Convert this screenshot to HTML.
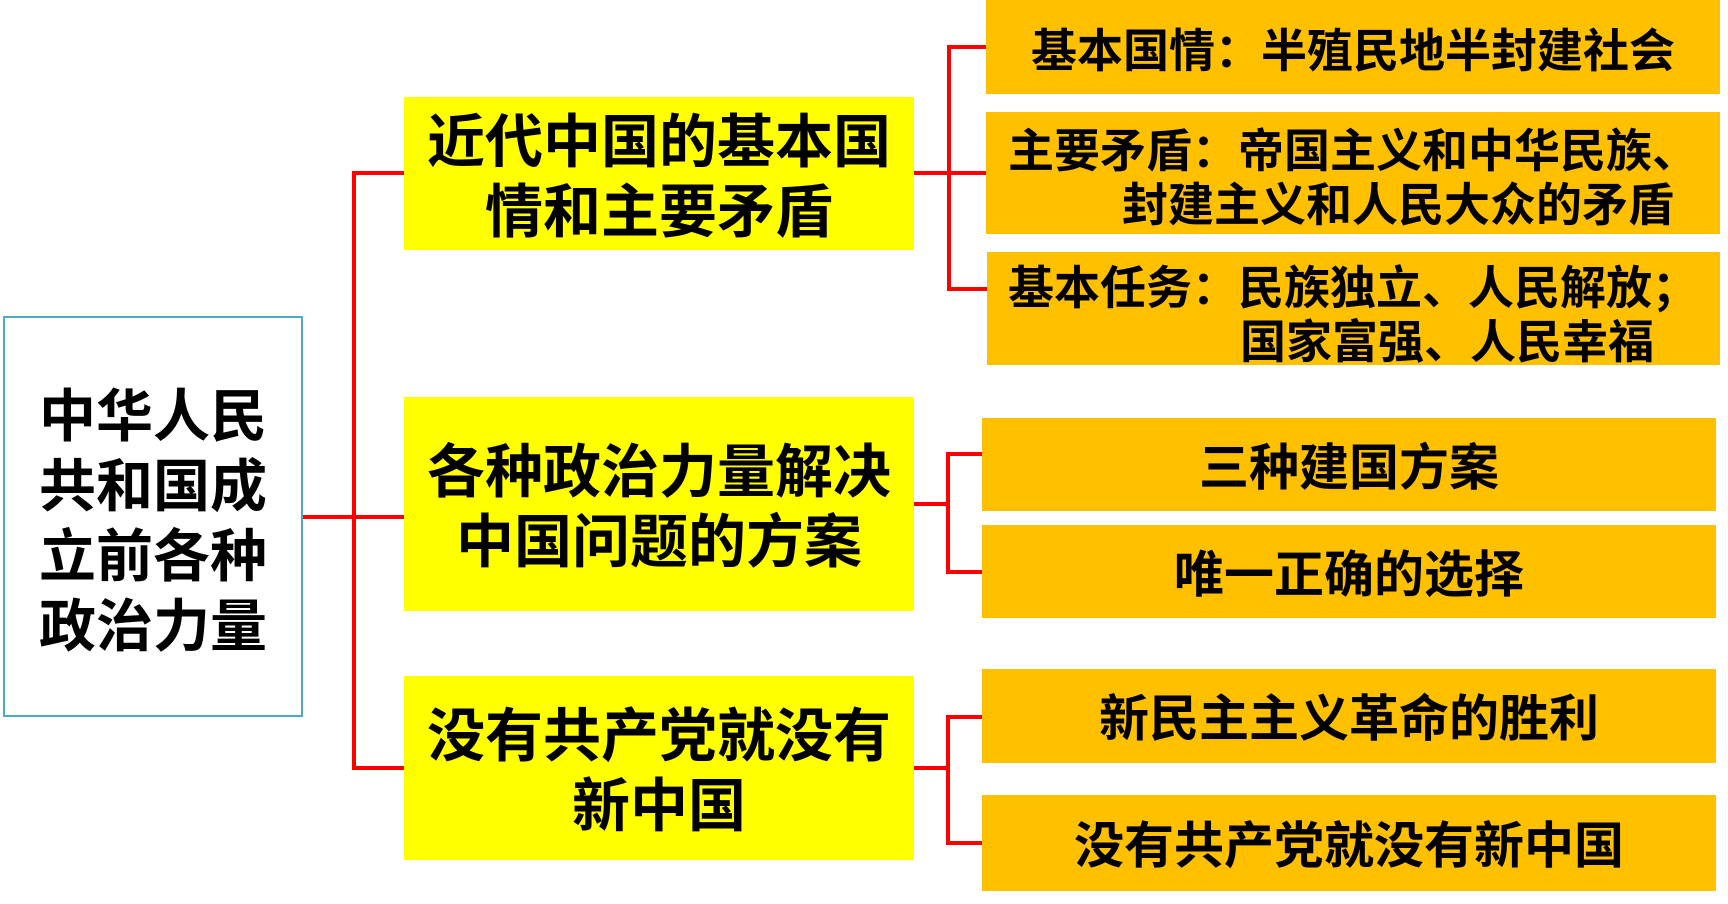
<!DOCTYPE html>
<html><head><meta charset="utf-8"><style>
body{margin:0;width:1728px;height:904px;background:#fff;position:relative;overflow:hidden;font-family:"Liberation Sans","Noto Sans CJK SC",sans-serif;font-weight:bold;color:#000}
.b{position:absolute;display:flex;flex-direction:column;align-items:center;justify-content:center;text-align:center;box-sizing:border-box}
.y{background:#ffff00;font-size:58px;line-height:70px;padding-top:8px}
.o{background:#ffc000;font-size:50px;line-height:56px;padding-top:6px}
.l{position:absolute;background:#ff0000}
.t{position:absolute;font-size:46px;line-height:54px;white-space:nowrap}
</style></head><body>
<div class="b" style="left:3px;top:316px;width:300px;height:401px;border:2px solid #4bacc6;font-size:57px;line-height:70px;padding-top:10px">中华人民<br>共和国成<br>立前各种<br>政治力量</div>

<div class="b y" style="left:404px;top:97px;width:510px;height:153px">近代中国的基本国<br>情和主要矛盾</div>
<div class="b y" style="left:404px;top:397px;width:510px;height:214px">各种政治力量解决<br>中国问题的方案</div>
<div class="b y" style="left:404px;top:676px;width:510px;height:184px">没有共产党就没有<br>新中国</div>

<div class="b o" style="left:986px;top:0;width:734px;height:94px"></div>
<div class="t" style="left:1031px;top:24px">基本国情：半殖民地半封建社会</div>
<div class="b o" style="left:986px;top:112px;width:734px;height:122px"></div>
<div class="t" style="left:1008px;top:124px">主要矛盾：帝国主义和中华民族、</div>
<div class="t" style="left:1122px;top:178px">封建主义和人民大众的矛盾</div>
<div class="b o" style="left:987px;top:252px;width:733px;height:113px"></div>
<div class="t" style="left:1008px;top:261px">基本任务：民族独立、人民解放；</div>
<div class="t" style="left:1240px;top:315px">国家富强、人民幸福</div>

<div class="b o" style="left:982px;top:418px;width:734px;height:93px">三种建国方案</div>
<div class="b o" style="left:982px;top:525px;width:734px;height:93px">唯一正确的选择</div>
<div class="b o" style="left:982px;top:669px;width:734px;height:94px">新民主主义革命的胜利</div>
<div class="b o" style="left:982px;top:795px;width:734px;height:96px">没有共产党就没有新中国</div>

<div class="l" style="left:303px;top:515px;width:51px;height:4px"></div>
<div class="l" style="left:352px;top:171px;width:4px;height:599px"></div>
<div class="l" style="left:352px;top:171px;width:52px;height:4px"></div>
<div class="l" style="left:352px;top:515px;width:52px;height:4px"></div>
<div class="l" style="left:352px;top:766px;width:52px;height:4px"></div>
<div class="l" style="left:914px;top:171px;width:72px;height:4px"></div>
<div class="l" style="left:947px;top:45px;width:4px;height:246px"></div>
<div class="l" style="left:947px;top:45px;width:39px;height:4px"></div>
<div class="l" style="left:947px;top:287px;width:40px;height:4px"></div>
<div class="l" style="left:914px;top:502px;width:36px;height:4px"></div>
<div class="l" style="left:946px;top:452px;width:4px;height:122px"></div>
<div class="l" style="left:946px;top:452px;width:36px;height:4px"></div>
<div class="l" style="left:946px;top:570px;width:36px;height:4px"></div>
<div class="l" style="left:914px;top:766px;width:36px;height:4px"></div>
<div class="l" style="left:946px;top:715px;width:4px;height:130px"></div>
<div class="l" style="left:946px;top:715px;width:36px;height:4px"></div>
<div class="l" style="left:946px;top:841px;width:36px;height:4px"></div>
</body></html>
